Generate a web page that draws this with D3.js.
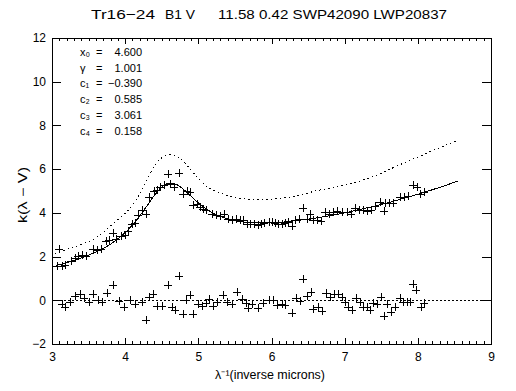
<!doctype html>
<html lang="en">
<head>
<meta charset="utf-8">
<title>Tr16-24 extinction curve</title>
<script src="https://cdnjs.cloudflare.com/ajax/libs/d3/7.8.5/d3.min.js"></script>
<style>
  body { margin: 0; background: #fff; }
  svg text { font-family: "Liberation Sans", Arial, sans-serif; fill: #000; }
</style>
</head>
<body>
<script>
const obsX = [3.07, 3.10, 3.13, 3.18, 3.26, 3.31, 3.36, 3.41, 3.47, 3.56, 3.61, 3.67, 3.74, 3.78, 3.84, 3.88, 3.94, 4.00,
  4.04, 4.09, 4.13, 4.18, 4.23, 4.28, 4.33, 4.39, 4.44, 4.48, 4.53, 4.59, 4.61, 4.67, 4.74, 4.79, 4.84, 4.89, 4.93, 4.98,
  5.02, 5.07, 5.11, 5.18, 5.24, 5.30, 5.35, 5.40, 5.46, 5.52, 5.57, 5.61, 5.66, 5.71, 5.76, 5.81, 5.85, 5.90, 5.96, 6.00,
  6.05, 6.09, 6.14, 6.18, 6.23, 6.28, 6.32, 6.37, 6.43, 6.48, 6.53, 6.57, 6.62, 6.67, 6.73, 6.79, 6.84, 6.89, 6.97, 7.03,
  7.08, 7.14, 7.20, 7.25, 7.31, 7.36, 7.41, 7.48, 7.54, 7.55, 7.61, 7.66, 7.75, 7.81, 7.87, 7.93, 7.99, 8.03, 8.08];
const obsK = [1.55, 2.36, 1.55, 1.60, 1.80, 1.94, 2.03, 2.09, 2.03, 2.33, 2.29, 2.33, 2.70, 2.74, 3.08, 2.82, 2.94, 2.97,
  3.17, 3.48, 3.55, 3.92, 4.12, 3.93, 4.73, 5.00, 5.03, 5.18, 5.26, 5.79, 5.34, 5.18, 5.82, 4.88, 5.00, 4.95, 4.35, 4.42,
  4.27, 4.19, 4.15, 3.93, 3.89, 3.84, 3.93, 3.74, 3.69, 3.74, 3.69, 3.66, 3.51, 3.48, 3.51, 3.43, 3.51, 3.54, 3.58, 3.58,
  3.54, 3.51, 3.51, 3.54, 3.58, 3.39, 3.66, 3.74, 4.24, 3.74, 3.97, 3.66, 3.66, 3.63, 4.04, 3.97, 4.04, 4.09, 4.04, 4.04,
  3.93, 4.24, 4.15, 4.12, 4.09, 4.15, 4.30, 4.50, 4.09, 4.43, 4.43, 4.45, 4.73, 4.73, 4.76, 5.26, 5.18, 4.88, 4.96];

// residuals (observed - fit)
const resX = [3.13, 3.18, 3.25, 3.31, 3.38, 3.44, 3.50, 3.56, 3.63, 3.69, 3.75, 3.83, 3.91, 3.98, 4.07, 4.13, 4.23, 4.28,
  4.33, 4.38, 4.44, 4.50, 4.58, 4.64, 4.68, 4.74, 4.79, 4.83, 4.89, 4.93, 5.00, 5.05, 5.10, 5.14, 5.20, 5.25, 5.34, 5.39,
  5.46, 5.53, 5.59, 5.65, 5.68, 5.74, 5.81, 5.89, 5.96, 6.02, 6.08, 6.14, 6.18, 6.28, 6.34, 6.39, 6.43, 6.49, 6.54, 6.57,
  6.63, 6.69, 6.74, 6.80, 6.85, 6.91, 6.96, 7.00, 7.05, 7.10, 7.15, 7.21, 7.25, 7.30, 7.34, 7.39, 7.44, 7.49, 7.54, 7.58,
  7.64, 7.69, 7.75, 7.80, 7.85, 7.89, 7.94, 7.98, 8.04, 8.08];
const resK = [-0.15, -0.31, -0.08, 0.18, 0.31, 0.12, -0.08, 0.31, 0.03, -0.08, 0.35, 0.69, -0.03, -0.31, 0.00, -0.15, -0.08, -0.92,
  0.15, 0.31, -0.27, -0.27, 0.69, -0.31, -0.46, 1.10, -0.61, 0.00, 0.23, -0.64, -0.15, -0.27, -0.12, 0.08, -0.27, -0.08, 0.23, -0.08,
  -0.15, 0.38, 0.08, -0.12, -0.35, -0.15, -0.36, -0.12, 0.00, 0.00, -0.23, -0.15, -0.23, -0.58, 0.12, -0.03, 0.99, 0.18, 0.38, -0.38,
  -0.31, -0.49, 0.33, 0.15, 0.27, 0.31, 0.15, -0.08, -0.31, -0.46, 0.12, -0.08, -0.31, -0.33, -0.43, -0.12, -0.15, 0.15, -0.73, -0.18,
  -0.53, -0.31, 0.12, -0.08, -0.08, -0.08, 0.76, 0.49, -0.31, -0.12];

// fitted curve (solid)
const fitX = [3.05, 3.2, 3.4, 3.6, 3.8, 4.0, 4.1, 4.2, 4.3, 4.4, 4.5, 4.6, 4.7, 4.8, 4.9, 5.0, 5.2, 5.4, 5.6, 5.8,
  6.0, 6.2, 6.4, 6.6, 6.8, 7.0, 7.2, 7.4, 7.6, 7.8, 8.0, 8.2, 8.4, 8.55];
const fitK = [1.58, 1.72, 1.94, 2.21, 2.57, 3.10, 3.45, 3.86, 4.33, 4.80, 5.18, 5.36, 5.30, 5.07, 4.76, 4.46, 3.99, 3.73, 3.59, 3.55,
  3.55, 3.59, 3.67, 3.76, 3.87, 4.00, 4.15, 4.30, 4.47, 4.66, 4.85, 5.06, 5.28, 5.46];

// comparison curve (dotted)
const refX = [3.04, 3.2, 3.4, 3.6, 3.8, 4.0, 4.1, 4.2, 4.3, 4.4, 4.5, 4.6, 4.7, 4.8, 4.9, 5.0, 5.1, 5.2, 5.3, 5.4, 5.5,
  5.6, 5.8, 6.0, 6.2, 6.4, 6.6, 6.8, 7.0, 7.2, 7.4, 7.6, 7.8, 8.0, 8.2, 8.4, 8.55];
const refK = [2.12, 2.33, 2.55, 2.86, 3.40, 3.98, 4.35, 4.85, 5.50, 6.15, 6.52, 6.68, 6.60, 6.35, 5.95, 5.58, 5.25, 5.05, 4.90, 4.80, 4.72,
  4.66, 4.61, 4.62, 4.70, 4.82, 5.00, 5.14, 5.28, 5.45, 5.67, 5.97, 6.27, 6.55, 6.84, 7.12, 7.32];

const xTicks = [3, 4, 5, 6, 7, 8, 9];
const yTicks = [-2, 0, 2, 4, 6, 8, 10, 12];
const paramNames = ["x\u2080", "\u03b3", "c\u2081", "c\u2082", "c\u2083", "c\u2084"];
const paramValues = ["4.600", "1.001", "\u22120.390", "0.585", "3.061", "0.158"];

const W = 516, H = 391;
const svg = d3.select("body").append("svg")
  .attr("width", W).attr("height", H)
  .attr("shape-rendering", "crispEdges");

const x = d3.scaleLinear().domain([3, 9]).range([52, 491]);
const y = d3.scaleLinear().domain([-2, 12]).range([344, 38]);
const xMinor = d3.range(30, 91).map(d => d / 10).filter(d => !xTicks.includes(d));

// frame
svg.append("rect")
  .attr("x", x(3)).attr("y", y(12))
  .attr("width", x(9) - x(3)).attr("height", y(-2) - y(12))
  .attr("fill", "none").attr("stroke", "#000");

function drawAxis(axis, tx, ty) {
  const g = svg.append("g").attr("transform", `translate(${tx},${ty})`).call(axis);
  g.select(".domain").remove();
  g.selectAll("text").attr("font-size", 12).attr("font-family", null);
  return g;
}

// x axes (bottom with labels, top without)
drawAxis(d3.axisBottom(x).tickValues(xTicks).tickSize(-6).tickPadding(8).tickFormat(d3.format("d")), 0, y(-2));
drawAxis(d3.axisBottom(x).tickValues(xMinor).tickSize(-3).tickFormat(""), 0, y(-2));
drawAxis(d3.axisTop(x).tickValues(xTicks).tickSize(-6).tickFormat(""), 0, y(12));
drawAxis(d3.axisTop(x).tickValues(xMinor).tickSize(-3).tickFormat(""), 0, y(12));

// y axes
drawAxis(d3.axisLeft(y).tickValues(yTicks).tickSize(-9).tickPadding(6).tickFormat(d3.format("d")), x(3), 0);
drawAxis(d3.axisRight(y).tickValues(yTicks).tickSize(-9).tickFormat(""), x(9), 0);

// title
const titleParts = [["Tr16\u221224", 91, 64], ["B1 V", 165, 30], ["11.58 0.42 SWP42090 LWP20837", 218, 229]];
svg.selectAll("text.title").data(titleParts).enter().append("text")
  .attr("class", "title")
  .attr("x", d => d[0] === "" ? 0 : d[1]).attr("y", 19)
  .attr("font-size", 13)
  .attr("textLength", d => d[2]).attr("lengthAdjust", "spacingAndGlyphs")
  .text(d => d[0]);

// axis titles
svg.append("text")
  .attr("x", 215).attr("y", 379)
  .attr("font-size", 12)
  .attr("textLength", 110).attr("lengthAdjust", "spacingAndGlyphs")
  .text("\u03bb\u207b\u00b9(inverse microns)");

svg.append("text")
  .attr("transform", "translate(27,223) rotate(-90)")
  .attr("font-size", 12)
  .attr("textLength", 56).attr("lengthAdjust", "spacingAndGlyphs")
  .text("k(\u03bb \u2212 V)");

// parameter list
const rowY = i => 56 + i * 15.7;
const params = svg.append("g");
params.selectAll("text.pn").data(paramNames).enter().append("text")
  .attr("x", 80).attr("y", (d, i) => rowY(i)).attr("font-size", 11).text(d => d);
params.selectAll("text.eq").data(paramNames).enter().append("text")
  .attr("x", 96).attr("y", (d, i) => rowY(i)).attr("font-size", 11).text("=");
params.selectAll("text.pv").data(paramValues).enter().append("text")
  .attr("x", 142).attr("y", (d, i) => rowY(i)).attr("font-size", 11)
  .attr("text-anchor", "end").text(d => d);

// zero line for residuals
svg.append("line")
  .attr("x1", x(3)).attr("x2", x(9)).attr("y1", y(0)).attr("y2", y(0))
  .attr("stroke", "#000").attr("stroke-dasharray", "2,2");

const line = d3.line().curve(d3.curveCatmullRom.alpha(0.5));

svg.append("path")
  .attr("d", line(refX.map((v, i) => [x(v), y(refK[i])])))
  .attr("fill", "none").attr("stroke", "#000").attr("stroke-dasharray", "1.5,3");

svg.append("path")
  .attr("d", line(fitX.map((v, i) => [x(v), y(fitK[i])])))
  .attr("fill", "none").attr("stroke", "#000");

const plus = "M-4,0H4M0,-4V4";
function drawPlus(xs, ks) {
  svg.append("g").selectAll("path").data(xs).enter().append("path")
    .attr("transform", (d, i) => `translate(${Math.round(x(d))},${Math.round(y(ks[i]))})`)
    .attr("d", plus).attr("stroke", "#000").attr("fill", "none");
}
drawPlus(obsX, obsK);
drawPlus(resX, resK);
</script>
</body>
</html>
